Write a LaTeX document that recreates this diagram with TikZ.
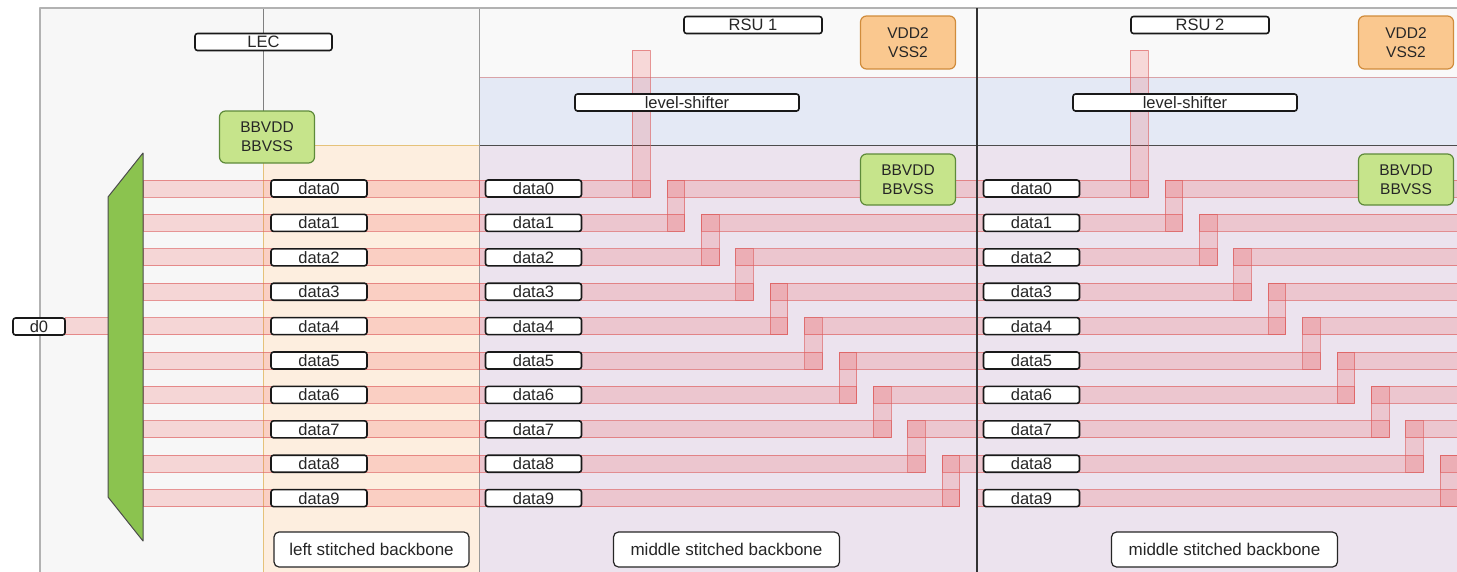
\documentclass[tikz,border=0pt]{standalone}
\usepackage{fontspec}
\setmainfont{Liberation Sans}
\usepackage{xcolor}

\definecolor{fondoG}{HTML}{F7F7F7}
\definecolor{fondoLS}{HTML}{FDEEDF}
\definecolor{bordoLS}{HTML}{E5C27A}
\definecolor{fondoTop}{HTML}{F9F9F9}
\definecolor{fondoBlu}{HTML}{E4E9F5}
\definecolor{fondoLil}{HTML}{ECE3EE}
\definecolor{linea77}{HTML}{D9A3A8}
\definecolor{rossoS}{HTML}{EE4444}
\definecolor{rossoB}{HTML}{DD6060}
\definecolor{verdeBB}{HTML}{C6E48B}
\definecolor{verdeBd}{HTML}{5E8A3A}
\definecolor{aranVDD}{HTML}{FAC88F}
\definecolor{aranBd}{HTML}{D08C3C}
\definecolor{verdeMux}{HTML}{8BC34F}

\begin{document}
\begin{tikzpicture}[
    x=1pt,
    y=-1pt,
    line join=round,
    striscia/.style={fill=rossoS, fill opacity=0.18, draw=rossoB, draw opacity=0.65, line width=0.8pt},
    etich/.style={draw=black!90, line width=1.6pt, fill=white, rounded corners=2.5pt,
        inner sep=0pt, minimum height=17pt, text=black!85, font=\fontsize{16.5}{17}\selectfont},
    alim/.style={line width=1.2pt, rounded corners=6pt, align=center, inner sep=0pt,
        minimum width=95pt, minimum height=52pt, text=black!85, font=\fontsize{15.5}{19}\selectfont},
    backbone/.style={draw=black!85, line width=1.2pt, fill=white, rounded corners=5pt,
        minimum height=35pt, text=black!85, font=\fontsize{17}{18}\selectfont}
]

% Parametri
\def\yr{188.5}
\def\dy{34.4}
\def\hw{8.5}

\useasboundingbox (0,0) rectangle (1457,571);
\clip (0,0) rectangle (1457,571);
\fill[white] (0,0) rectangle (1457,571);

% Cornice e zona LEC
\draw[fill=fondoG, draw=black!30, line width=1.5pt] (40,8) rectangle (1500,600);
\draw[fill=fondoLS, draw=bordoLS, line width=1pt] (263,145) rectangle (479,600);
\draw[black!50, line width=1pt] (263,8) -- (263,145);

% Zone RSU
\foreach \L in {479,977} {
    \fill[fondoTop] (\L,8) rectangle ({\L+498},77);
    \fill[fondoBlu] (\L,77) rectangle ({\L+498},145);
    \fill[fondoLil] (\L,145) rectangle ({\L+498},600);
    \draw[linea77, line width=1pt] (\L,77) -- ({\L+498},77);
    \draw[black!70, line width=1pt] (\L,145) -- ({\L+498},145);
    \draw[black!40, line width=1pt] (\L,8) -- (\L,600);
}
\draw[black!30, line width=1.5pt] (40,8) -- (1457,8);

% Strisce LEC
\draw[striscia] (65,{\yr+\dy*4-\hw}) rectangle (108,{\yr+\dy*4+\hw});
\foreach \i in {0,...,9}
    \draw[striscia] (143,{\yr+\dy*\i-\hw}) rectangle (479,{\yr+\dy*\i+\hw});

% Strisce RSU
\foreach \L in {479,977} {
    \draw[striscia] (\L,{\yr-\hw}) rectangle ({\L+171},{\yr+\hw});
    \draw[striscia] ({\L+153},50) rectangle ({\L+171},{\yr+\hw});
    \foreach \j in {1,...,9} {
        \pgfmathsetmacro\xj{\L+188+34.4*(\j-1)}
        \draw[striscia] (\L,{\yr+\dy*\j-\hw}) rectangle ({\xj+17.5},{\yr+\dy*\j+\hw});
        \draw[striscia] (\xj,{\yr+\dy*(\j-1)-\hw}) rectangle ({\L+498},{\yr+\dy*(\j-1)+\hw});
        \draw[striscia] (\xj,{\yr+\dy*(\j-1)-\hw}) rectangle ({\xj+17.5},{\yr+\dy*\j+\hw});
    }
}
\draw[black!80, line width=1.5pt] (977,8) -- (977,600);

% Mux
\draw[fill=verdeMux, draw=black!70, line width=1pt]
    (108,197) -- (143,153) -- (143,541) -- (108,497) -- cycle;

% Etichette LEC
\node[etich, minimum width=137pt] (lec) at (263.5,42) {LEC};
\node[alim, draw=verdeBd, fill=verdeBB] (bbLEC) at (267,137) {BBVDD\\BBVSS};
\node[etich, minimum width=52pt] (d0) at (39,326.5) {d0};
\foreach \i in {0,...,9}
    \node[etich, minimum width=96pt] (lec\i) at (319,{\yr+\dy*\i}) {data\i};
\node[backbone, minimum width=195pt] (lsb) at (371.5,549.5) {left stitched backbone};

% Etichette RSU
\foreach \L/\n/\xt in {479/1/753,977/2/1200} {
    \node[etich, minimum width=138pt] (rsu\n) at (\xt,25) {RSU \n};
    \node[alim, draw=aranBd, fill=aranVDD, minimum height=53pt] (vdd\n) at ({\L+429},42.5) {VDD2\\VSS2};
    \node[etich, minimum width=224pt] (ls\n) at ({\L+208},102.5) {level-shifter};
    \node[alim, draw=verdeBd, fill=verdeBB, minimum height=51pt] (bb\n) at ({\L+429},179.5) {BBVDD\\BBVSS};
    \foreach \i in {0,...,9}
        \node[etich, minimum width=96pt] (d\n-\i) at ({\L+54.5},{\yr+\dy*\i}) {data\i};
    \node[backbone, minimum width=226pt] (msb\n) at ({\L+247.5},549.5) {middle stitched backbone};
}

\end{tikzpicture}
\end{document}
